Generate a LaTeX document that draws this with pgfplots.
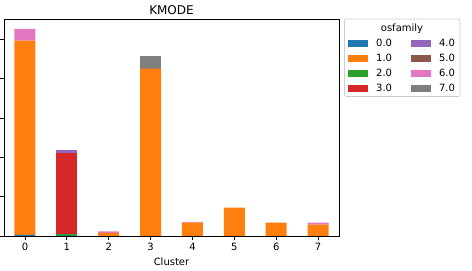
\documentclass[border=0pt]{standalone}
\usepackage{pgfplots}
\pgfplotsset{compat=1.18}
\usepackage{fontspec}
\setmainfont{DejaVu Sans}
\definecolor{c0}{HTML}{1F77B4}
\definecolor{c1}{HTML}{FF7F0E}
\definecolor{c2}{HTML}{2CA02C}
\definecolor{c3}{HTML}{D62728}
\definecolor{c4}{HTML}{9467BD}
\definecolor{c5}{HTML}{8C564B}
\definecolor{c6}{HTML}{E377C2}
\definecolor{c7}{HTML}{7F7F7F}
\begin{document}
\fontsize{10bp}{12bp}\selectfont
\begin{tikzpicture}
\path[use as bounding box] (-4bp,-35bp) rectangle (468bp,236bp);
\begin{axis}[
  at={(0,0)}, anchor=south west,
  scale only axis, width=335bp, height=217bp,
  ybar stacked, bar width=0.5,
  xmin=-0.5, xmax=7.5, ymin=0, ymax=5.52,
  xtick={0,...,7}, ytick={0,...,5}, yticklabels={},
  xtick pos=bottom, ytick pos=left,
  tick align=outside, major tick length=3.5bp,
  /pgf/number format/assume math mode=true,
  tick label style={font=\fontsize{10bp}{12bp}\selectfont},
  xlabel={Cluster},
  xlabel style={font=\fontsize{10bp}{12bp}\selectfont},
  title={KMODE},
  every axis title/.style={font=\fontsize{12bp}{14bp}\selectfont, at={(0.5,1)}, anchor=base, yshift=4bp, inner sep=0pt},
  axis line style={black, line width=0.8bp},
  every tick/.style={black, line width=0.8bp},
  legend columns=4, transpose legend,
  legend style={at={(1,1)}, anchor=north west, xshift=6bp, yshift=-15.5bp, draw=none, fill=none,
    font=\fontsize{10bp}{12bp}\selectfont, column sep=6bp, row sep=2.3bp,
    /tikz/every even column/.append style={column sep=17bp}},
  legend cell align=left,
  legend image code/.code={\fill[#1,draw=none] (0bp,-3.5bp) rectangle (20bp,3.5bp);},
]
\addplot[fill=c0, draw=none] coordinates {(0,0.03) (1,0.01) (2,0) (3,0) (4,0) (5,0) (6,0) (7,0)};
\addplot[fill=c1, draw=none] coordinates {(0,4.94) (1,0) (2,0.077) (3,4.26) (4,0.34) (5,0.72) (6,0.34) (7,0.29)};
\addplot[fill=c2, draw=none] coordinates {(0,0) (1,0.04) (2,0) (3,0) (4,0) (5,0) (6,0) (7,0)};
\addplot[fill=c3, draw=none] coordinates {(0,0) (1,2.07) (2,0) (3,0) (4,0) (5,0) (6,0) (7,0)};
\addplot[fill=c4, draw=none] coordinates {(0,0) (1,0.08) (2,0) (3,0) (4,0) (5,0) (6,0) (7,0)};
\addplot[fill=c5, draw=none] coordinates {(0,0) (1,0) (2,0) (3,0) (4,0) (5,0) (6,0) (7,0)};
\addplot[fill=c6, draw=none] coordinates {(0,0.30) (1,0) (2,0.04) (3,0) (4,0.02) (5,0) (6,0) (7,0.05)};
\addplot[fill=c7, draw=none] coordinates {(0,0) (1,0) (2,0) (3,0.31) (4,0) (5,0) (6,0) (7,0)};
\legend{0.0,1.0,2.0,3.0,4.0,5.0,6.0,7.0}
\end{axis}
\draw[rounded corners=2bp, draw=black!20, line width=0.8bp] (340.5bp,139.5bp) rectangle (456bp,217bp);
\node[font=\fontsize{10bp}{12bp}\selectfont] at (398bp,207bp) {osfamily};
\end{tikzpicture}
\end{document}
